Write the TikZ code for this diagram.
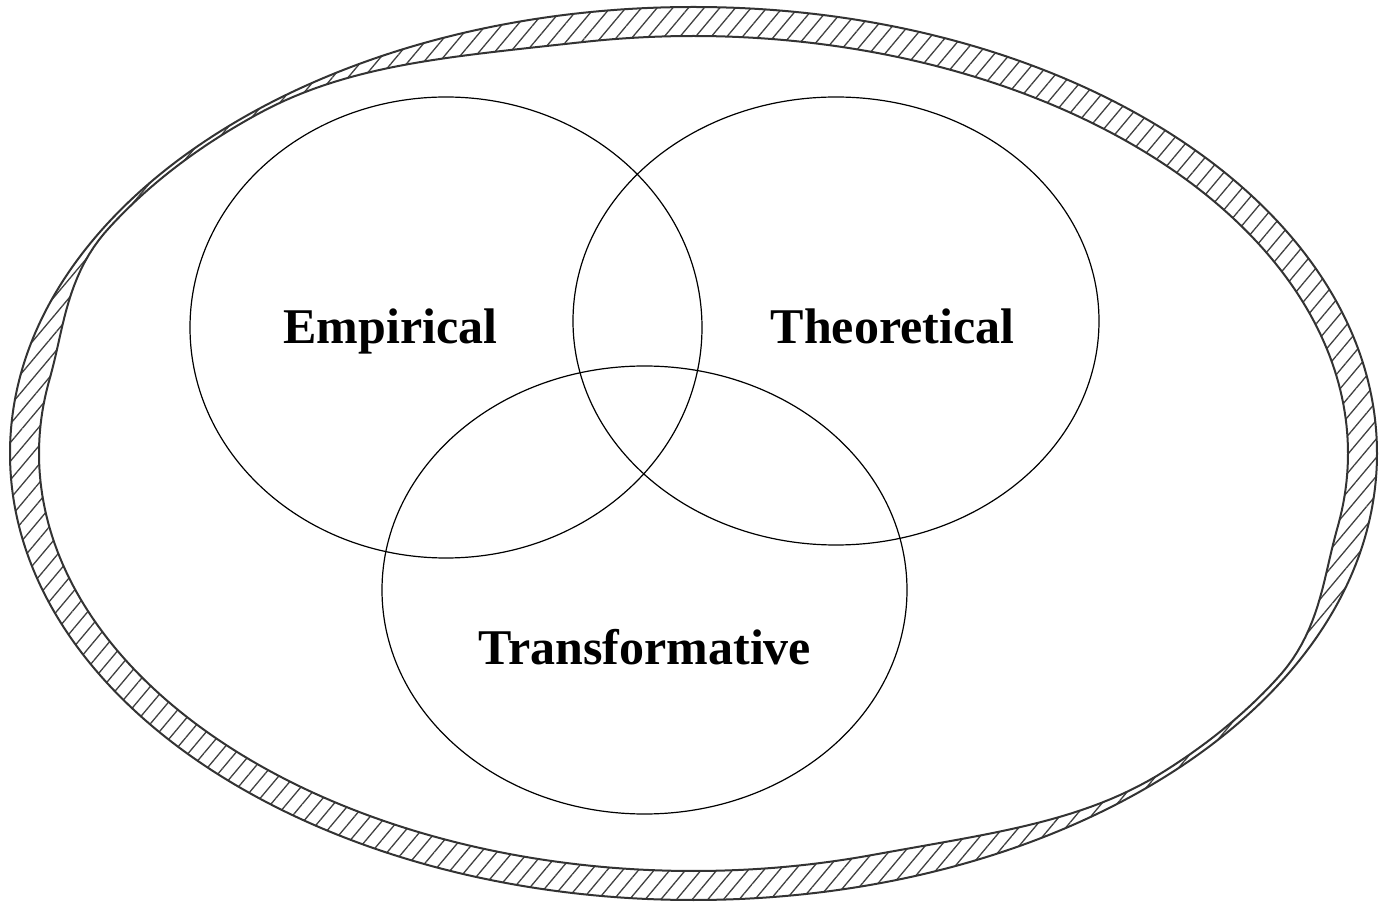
\documentclass[tikz,border=0pt]{standalone}
\usepackage{fontspec}
\setmainfont{Liberation Serif}
\usetikzlibrary{patterns.meta}
\begin{document}
\begin{tikzpicture}[x=0.5pt,y=-0.5pt,
  ringline/.style={line width=1pt, draw=black!80},
  ringfill/.style={pattern={Lines[angle=50,distance=6pt,line width=0.65pt]}, pattern color=black!75},
  setline/.style={line width=0.6pt, draw=black},
  setlabel/.style={font=\fontsize{25}{30}\selectfont\bfseries, inner sep=0pt, anchor=base}]
\useasboundingbox (0,0) rectangle (1383,903);
% outer ellipse of the ring and the ratio of its radii
\def\cx{693.5}\def\cy{453.5}\def\ra{683.5}\def\rb{446.5}
\pgfmathsetmacro\rr{\rb/\ra}
% ring width: a flat narrow stretch with cosine tapers on both sides,
% once at the upper left and once at the lower right
\tikzset{declare function={
  tap(\dd,\pp,\ll,\rt)=(abs(\dd)<\pp)
     +(\dd<-\pp)*(\dd>-\pp-\ll)*cos(90/\ll*(-\dd-\pp))*cos(90/\ll*(-\dd-\pp))
     +(\dd>\pp)*(\dd<\pp+\rt)*cos(90/\rt*(\dd-\pp))*cos(90/\rt*(\dd-\pp));
  ringw(\s)=29-25*tap(\s-220.5,10,20,30)-24*tap(\s-38.5,8,20,28);
  nrm(\s)=sqrt((\rr*cos(\s))*(\rr*cos(\s))+sin(\s)*sin(\s));
}}
% hatched ring between the outer ellipse and the inner curve
\path[ringfill, even odd rule]
  (\cx,\cy) ellipse [x radius=\ra, y radius=\rb]
  plot[domain=0:360, samples=361, variable=\s]
    ({\cx+\ra*cos(\s)-ringw(\s)*\rr*cos(\s)/nrm(\s)},
     {\cy+\rb*sin(\s)-ringw(\s)*sin(\s)/nrm(\s)}) -- cycle;
\draw[ringline] (\cx,\cy) ellipse [x radius=\ra, y radius=\rb];
\draw[ringline]
  plot[domain=0:360, samples=361, variable=\s]
    ({\cx+\ra*cos(\s)-ringw(\s)*\rr*cos(\s)/nrm(\s)},
     {\cy+\rb*sin(\s)-ringw(\s)*sin(\s)/nrm(\s)}) -- cycle;
% the three overlapping sets
\draw[setline] (446,327.5) ellipse [x radius=256, y radius=230.5];
\draw[setline] (836,321) ellipse [x radius=263, y radius=224];
\draw[setline] (644.5,590) ellipse [x radius=262.5, y radius=224];
% set labels
\node[setlabel] (emp) at (390.5,344) {Empirical};
\node[setlabel] (theo) at (892.5,344) {Theoretical};
\node[setlabel] (trans) at (645,665) {Transformative};
\end{tikzpicture}
\end{document}
